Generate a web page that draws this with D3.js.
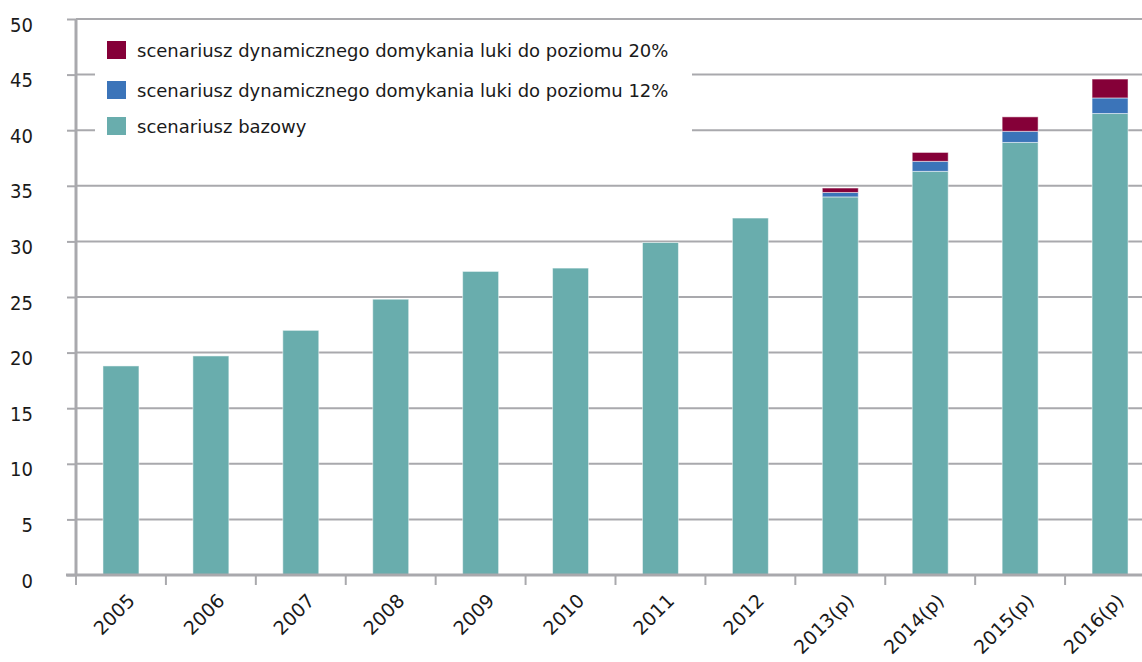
<!DOCTYPE html>
<html><head><meta charset="utf-8">
<script src="https://cdn.jsdelivr.net/npm/d3@7"></script>
<style>body{margin:0;background:#fff}svg{display:block}</style>
</head><body>
<svg id="c" width="1142" height="662"></svg>
<script>
const categories = ["2005","2006","2007","2008","2009","2010","2011","2012","2013(p)","2014(p)","2015(p)","2016(p)"];
const baseValues = [18.8,19.7,22.0,24.8,27.3,27.6,29.9,32.1,34.0,36.3,38.9,41.5];
const gap12Values = [0,0,0,0,0,0,0,0,0.4,0.9,1.0,1.4];
const gap20Values = [0,0,0,0,0,0,0,0,0.4,0.8,1.3,1.7];
const yTicks = [0,5,10,15,20,25,30,35,40,45,50];
const seriesNames = ["scenariusz bazowy","scenariusz dynamicznego domykania luki do poziomu 12%","scenariusz dynamicznego domykania luki do poziomu 20%"];
const colors = ["#69adad","#3b74b9","#850038"];

const svg = d3.select("#c");
const fontC = "'DejaVu Sans Condensed','DejaVu Sans',sans-serif";
const fontW = "'DejaVu Sans',sans-serif";
const mLeft = 76, mRight = 1155, mTop = 19, mBottom = 575;
const x = d3.scaleBand().domain(categories).range([mLeft, mRight]).paddingInner(0.6).paddingOuter(0.3);
const y = d3.scaleLinear().domain([0,50]).range([mBottom, mTop]);

// gridlines
svg.append("g").selectAll("line").data(yTicks.filter(d=>d>0)).join("line")
  .attr("x1", mLeft).attr("x2", 1142).attr("y1", d=>y(d)).attr("y2", d=>y(d))
  .attr("stroke", "#a9a9ad").attr("stroke-width", 2);

// bars
const table = categories.map((c,i)=>({cat:c, s0:baseValues[i], s1:gap12Values[i], s2:gap20Values[i]}));
const stack = d3.stack().keys(["s0","s1","s2"])(table);
svg.append("g").selectAll("g").data(stack).join("g")
  .attr("fill", (d,i)=>colors[i])
  .selectAll("rect").data(d=>d.filter(p=>p[1]-p[0]>0)).join("rect")
  .attr("x", d=>x(d.data.cat)).attr("width", x.bandwidth())
  .attr("y", d=>y(d[1])).attr("height", d=>y(d[0])-y(d[1]))
  .attr("stroke", "rgba(255,255,255,0.5)").attr("stroke-width", 1);

// y axis
const yAxis = svg.append("g").attr("transform", `translate(${mLeft},0)`)
  .call(d3.axisLeft(y).tickValues(yTicks).tickSize(9).tickPadding(34));
yAxis.select(".domain").attr("stroke", "#a9a9ad").attr("stroke-width", 3).attr("d", `M0,${mTop}V${mBottom}`);
yAxis.selectAll(".tick line").attr("stroke", "#a9a9ad").attr("stroke-width", 2);
yAxis.selectAll("text").attr("font-family", fontC).attr("font-size", 20).attr("fill", "#1a1a1a").attr("dy", "0.6em");

// x axis
const xAxis = svg.append("g").attr("transform", `translate(0,${mBottom})`);
xAxis.append("line").attr("x1", mLeft-10).attr("x2", 1142).attr("y1", 0).attr("y2", 0)
  .attr("stroke", "#a9a9ad").attr("stroke-width", 3);
const step = x.step();
const tickXs = d3.range(categories.length).map(i=>mLeft + i*step);
xAxis.selectAll(".xt").data(tickXs).join("line").attr("class","xt")
  .attr("x1", d=>d).attr("x2", d=>d).attr("y1", 0).attr("y2", 10)
  .attr("stroke", "#a9a9ad").attr("stroke-width", 2);
xAxis.selectAll(".xl").data(categories).join("text").attr("class","xl")
  .attr("transform", d=>`translate(${x(d)+x.bandwidth()/2+15},${27}) rotate(-45)`)
  .attr("text-anchor", "end").attr("font-family", fontW).attr("font-size", 19).attr("fill", "#1a1a1a")
  .text(d=>d);

// legend
const lg = svg.append("g");
lg.append("rect").attr("x", 95).attr("y", 30).attr("width", 597).attr("height", 122).attr("fill", "#fff");
const legendOrder = [2,1,0];
const ly = [50, 90, 126];
legendOrder.forEach((si,k)=>{
  lg.append("rect").attr("x", 107).attr("y", ly[k]-9).attr("width", 19).attr("height", 18).attr("fill", colors[si]);
  lg.append("text").attr("x", 137).attr("y", ly[k]+7).attr("font-family", fontW).attr("font-size", 18)
    .attr("fill", "#1a1a1a").text(seriesNames[si]);
});
</script>
</body></html>
